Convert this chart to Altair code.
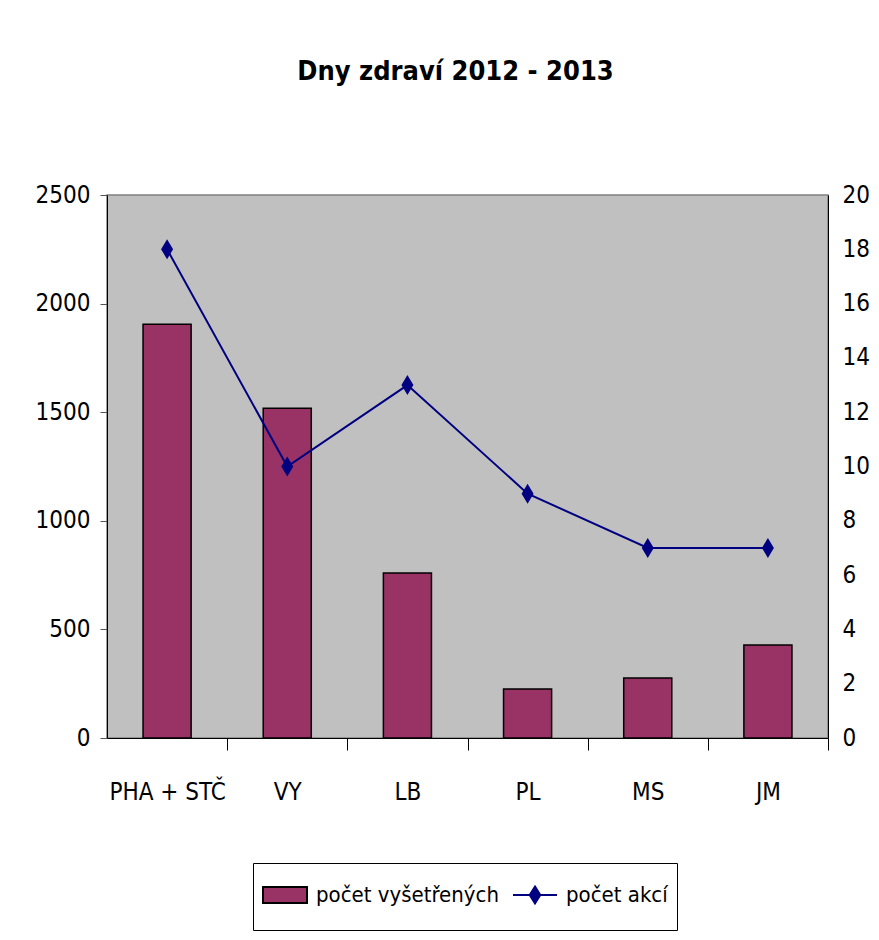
import altair as alt
import pandas as pd

categories = ["PHA + STČ", "VY", "LB", "PL", "MS", "JM"]
vysetrenych = [1905, 1518, 760, 226, 276, 428]
akci = [18, 10, 13, 9, 7, 7]

bar_label = "počet vyšetřených"
line_label = "počet akcí"

df = pd.DataFrame({"kraj": categories, "vys": vysetrenych, "akce": akci,
                   "s1": [bar_label] * 6})

FONT = "DejaVu Sans Condensed, Liberation Sans, sans-serif"
STEP = 721 / 6
FS = 24

x = alt.X("kraj:N", sort=categories, title=None,
          scale=alt.Scale(paddingInner=0.6, paddingOuter=0.3),
          axis=alt.Axis(labelAngle=0, tickSize=12, tickColor="#000000",
                        domainColor="#000000", labelFontSize=FS, labelFont=FONT,
                        labelColor="#000000", labelPadding=30,
                        tickOffset=STEP / 2, labelOffset=-STEP / 2))

bars = alt.Chart(df).mark_bar(stroke="#000000", strokeWidth=1.5).encode(
    x=x,
    y=alt.Y("vys:Q", title=None,
            scale=alt.Scale(domain=[0, 2500]),
            axis=alt.Axis(values=[0, 500, 1000, 1500, 2000, 2500], grid=False,
                          format="d",
                          tickSize=7, tickColor="#555555", domainColor="#000000",
                          labelFontSize=FS, labelFont=FONT, labelColor="#000000",
                          labelPadding=10)),
    fill=alt.Fill("s1:N",
                  scale=alt.Scale(domain=[bar_label, line_label],
                                  range=["#993366", "#000080"]),
                  legend=alt.Legend(
                      title=None, orient="none", direction="horizontal",
                      legendX=146, legendY=668,
                      padding=9, strokeColor="#000000", fillColor="#ffffff",
                      labelFont=FONT, labelFontSize=22, labelColor="#000000",
                      labelLimit=400,
                      labelOffset=8, columnPadding=10,
                      symbolSize=1936,
                      symbolType=alt.ExprRef(
                          "datum.value === 'počet akcí' ? "
                          "'M0,-1.0M0,1.0M-1,0L1,0M0,-0.38L0.24,0L0,0.38L-0.24,0Z' : "
                          "'M0,-1.0M0,1.0M-1,-0.36L1,-0.36L1,0.36L-1,0.36Z'"),
                      symbolStrokeColor=alt.ExprRef(
                          "datum.value === 'počet akcí' ? '#000080' : '#000000'"),
                      symbolStrokeWidth=2,
                  )),
)

line = alt.Chart(df).mark_line(
    color="#000080", strokeWidth=2,
    point=alt.OverlayMarkDef(shape="M0,-1L0.6,0L0,1L-0.6,0Z", size=400,
                             filled=True, color="#000080")
).encode(
    x=alt.X("kraj:N", sort=categories),
    y=alt.Y("akce:Q", title=None,
            scale=alt.Scale(domain=[0, 20]),
            axis=alt.Axis(orient="right", values=list(range(0, 21, 2)), grid=False,
                          tickSize=0, domainColor="#000000",
                          labelFontSize=FS, labelFont=FONT, labelColor="#000000",
                          labelPadding=14)),
)

chart = alt.layer(bars, line).resolve_scale(y="independent").properties(
    width=721, height=543,
    autosize=alt.AutoSizeParams(type="none"),
    padding={"left": 99, "top": 187, "right": 42, "bottom": 193},
    background="#ffffff",
    title=alt.TitleParams("Dny zdraví  2012 - 2013", font=FONT, fontSize=27,
                          fontWeight="bold", color="#000000", anchor="middle",
                          offset=97, dx=-12),
).configure_view(fill="#C0C0C0", stroke="#808080", strokeWidth=1.5)

chart.save("out.html", embed_options={"renderer": "svg", "actions": False})
